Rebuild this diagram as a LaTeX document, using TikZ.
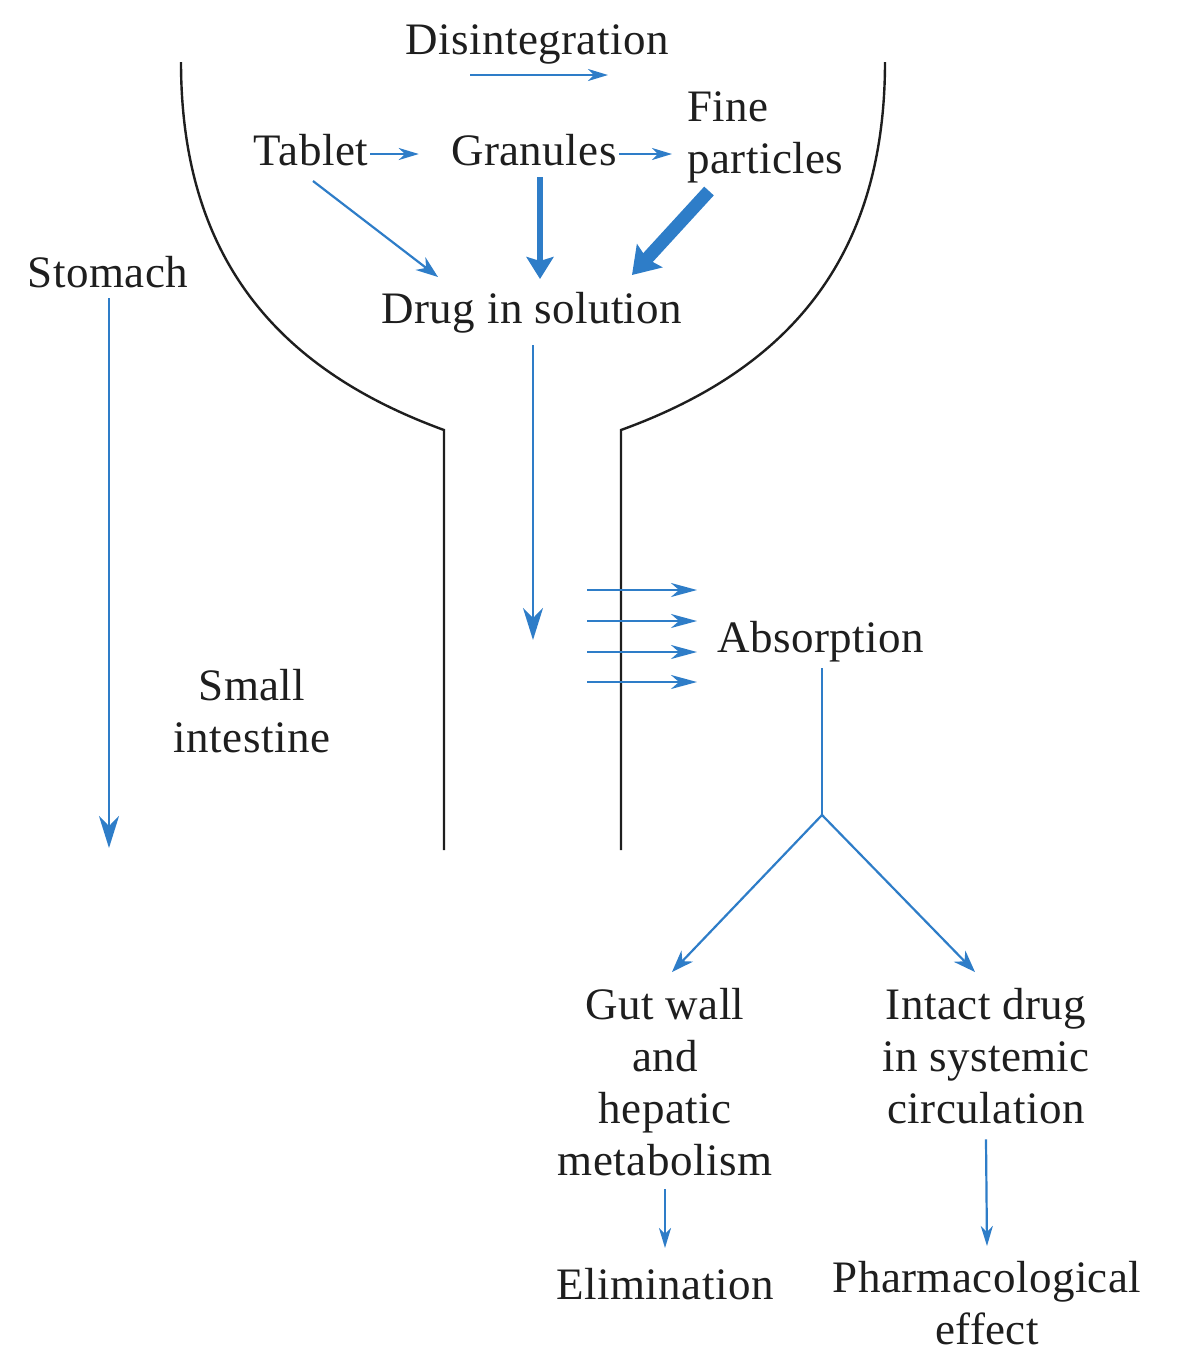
\documentclass[tikz,border=0pt]{standalone}
\usepackage{fontspec}
\setmainfont[LetterSpace=1]{Liberation Serif}
\usetikzlibrary{arrows.meta,calc}
\definecolor{arrblue}{RGB}{46,125,200}
\definecolor{ink}{RGB}{30,30,30}
\begin{document}
\begin{tikzpicture}[x=0.5pt,y=-0.5pt,
  lbl/.style={inner sep=0pt, font=\fontsize{22.5}{26}\selectfont, text=ink, align=center},
  line/.style={draw=arrblue, line width=1.1pt},
  arr/.style={line, -{Stealth[length=10pt,width=6pt,inset=3pt]}},
  harr/.style={line, -{Stealth[length=13pt,width=7pt,inset=4pt]}},
  darr/.style={line, -{Stealth[length=16pt,width=10pt,inset=5pt]}},
  barr/.style={line, -{Stealth[length=11pt,width=8pt,inset=3.5pt]}},
  thickarr/.style={draw=arrblue, line width=3.2pt, -{Stealth[length=11pt,width=13.5pt,inset=2pt]}},
  fatarr/.style={draw=arrblue, line width=6.5pt, -{Stealth[length=13pt,width=17pt,inset=2pt]}},
  wall/.style={draw=ink, line width=1.2pt}]
\useasboundingbox (0,0) rectangle (1177,1351);

% walls of stomach and small intestine
\draw[wall] (181,62) .. controls (181,265) and (285,372) .. (444,430) -- (444,850);
\draw[wall] (885,62) .. controls (885,265) and (781,372) .. (621,430) -- (621,850);

% labels
\node[lbl,anchor=base] (disint) at (537,54) {Disintegration};
\node[lbl,anchor=base] (tablet) at (311,165) {Tablet};
\node[lbl,anchor=base] (granules) at (534,165) {Granules};
\node[lbl,anchor=north west,align=left] (fine) at (687,91) {Fine\\particles};
\node[lbl,anchor=base] (stomach) at (108,287) {Stomach};
\node[lbl,anchor=base] (drug) at (532,323) {Drug in solution};
\node[lbl,anchor=base] (absorp) at (821,652) {Absorption};
\node[lbl,anchor=north] (small) at (252,669) {Small\\intestine};
\node[lbl,anchor=north] (gut) at (665,988) {Gut wall\\and\\hepatic\\metabolism};
\node[lbl,anchor=base] (elim) at (665,1299) {Elimination};
\node[lbl,anchor=north] (intact) at (986,988) {Intact drug\\in systemic\\circulation};
\node[lbl,anchor=north] (pharm) at (987,1261) {Pharmacological\\effect};

% free ends
\coordinate (disS) at ($(disint.base)+(-67,21)$);
\coordinate (disE) at ($(disint.base)+(71,21)$);
\coordinate (stomE) at (109,848);
\coordinate (drugE) at (533,640);
\coordinate (branch) at ($(absorp.base)+(1,163)$);

% arrows
\draw[arr] (disS) -- (disE);
\draw[arr] ($(tablet.base east)+(2,-11)$) -- ($(granules.base west)+(-32,-11)$);
\draw[arr] ($(granules.base east)+(2,-11)$) -- ($(granules.base east -| fine.west)+(-15,-11)$);
\draw[barr] ($(tablet.base)+(2,16)$) -- ($(drug.base)+(-94,-46)$);
\draw[thickarr] ($(granules.base)+(6,12)$) -- ($(drug.base)+(8,-44)$);
\draw[fatarr] ($(fine.north west)+(22,100)$) -- ($(drug.base)+(100,-48)$);
\draw[darr] ($(stomach.base)+(1,11)$) -- (stomE);
\draw[darr] ($(drug.base)+(1,22)$) -- (drugE);
\foreach \dy in {-62,-31,0,30}
  \draw[harr] ($(absorp.base)+(-234,\dy)$) -- ($(absorp.base)+(-124,\dy)$);
\draw[line] ($(absorp.base)+(1,16)$) -- (branch);
\draw[barr] (branch) -- ($(gut.north)+(7,-16)$);
\draw[barr] (branch) -- ($(intact.north)+(-11,-16)$);
\draw[arr] ($(gut.south)+(0,13)$) -- ($(elim.base)+(0,-51)$);
\draw[arr] ($(intact.south)+(0,15)$) -- ($(pharm.north)+(0,-15)$);
\end{tikzpicture}
\end{document}
